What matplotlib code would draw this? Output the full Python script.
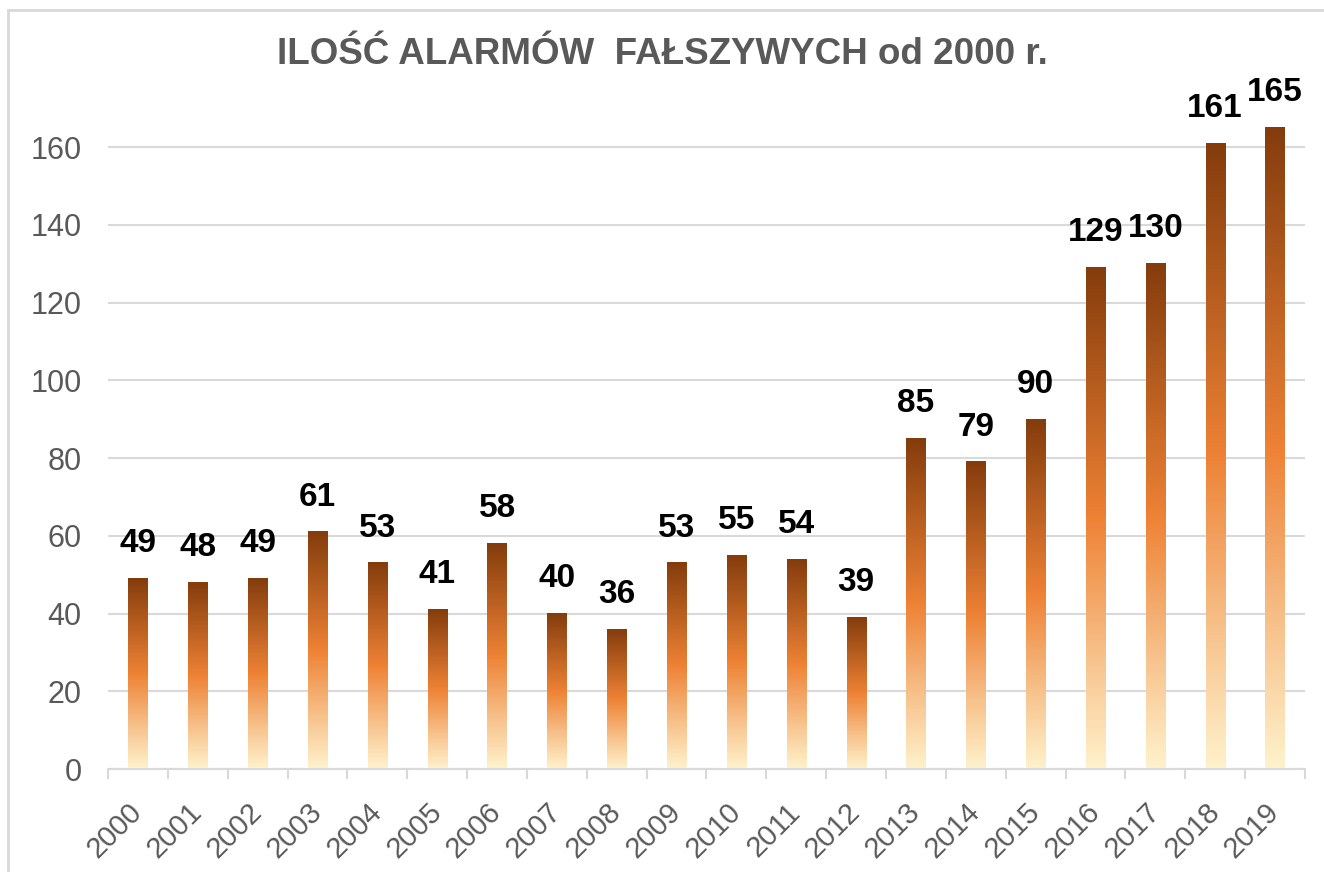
import matplotlib; matplotlib.use("Agg")
import numpy as np
import matplotlib.pyplot as plt
from matplotlib.colors import LinearSegmentedColormap
from matplotlib.lines import Line2D

plt.rcParams.update({"font.family": ["Liberation Sans", "DejaVu Sans"]})

years = [str(y) for y in range(2000, 2020)]
alarms = [49, 48, 49, 61, 53, 41, 58, 40, 36, 53, 55, 54, 39, 85, 79, 90, 129, 130, 161, 165]
title = "ILOŚĆ ALARMÓW  FAŁSZYWYCH od 2000 r."

GRAY = "#595959"
GRID = "#d9d9d9"
cmap = LinearSegmentedColormap.from_list(
    "bar", [(0, "#fff2cc"), (0.22, "#f7c28c"), (0.5, "#ee8235"), (1, "#843c0c")])

fig = plt.figure(figsize=(13.24, 8.72), dpi=100)
ax = fig.add_axes([0.0816, 0.118, 0.904, 0.749])

x = np.arange(len(years))
bars = ax.bar(x, alarms, width=0.32, color="none", zorder=2)
grad = np.linspace(0, 1, 256).reshape(-1, 1)
for b in bars:
    x0, y0 = b.get_x(), b.get_y()
    ax.imshow(grad, cmap=cmap, origin="lower", aspect="auto", zorder=2,
              extent=[x0, x0 + b.get_width(), y0, y0 + b.get_height()])
    ax.annotate(f"{b.get_height():.0f}", (x0 + b.get_width() / 2, b.get_height()),
                xytext=(0, 14), textcoords="offset points", ha="center", va="bottom",
                fontsize=24, fontweight="bold", color="black")

ax.set_xlim(-0.5, len(years) - 0.5)
ax.set_ylim(0, 168)
ax.set_yticks(range(0, 161, 20))
ax.yaxis.grid(True, color=GRID, lw=1.5, zorder=0)
ax.set_axisbelow(True)
for s in ["top", "right", "left"]:
    ax.spines[s].set_visible(False)
ax.spines["bottom"].set_color(GRID)
ax.spines["bottom"].set_linewidth(1.5)
ax.tick_params(axis="y", length=0, pad=19, labelsize=22, labelcolor=GRAY)

ax.set_xticks(x)
ax.set_xticklabels(years, rotation=45, ha="right", va="center", rotation_mode="anchor")
ax.tick_params(axis="x", which="major", length=0, pad=28, labelsize=21, labelcolor=GRAY)
ax.set_xticks(np.arange(-0.5, len(years)), minor=True)
ax.tick_params(axis="x", which="minor", length=7, width=1.5, color=GRID)

fig.text(0.5, 0.938, title, ha="center", va="center", fontsize=26.5,
         fontweight="bold", color=GRAY)
# chart frame: only top and left edges are visible in the source crop
top, left = 1 - 10 / 872, 8 / 1324
fig.add_artist(Line2D([left, 1], [top, top], transform=fig.transFigure, color=GRID, lw=2))
fig.add_artist(Line2D([left, left], [0, top], transform=fig.transFigure, color=GRID, lw=2))

fig.savefig("out.png", dpi=100)
